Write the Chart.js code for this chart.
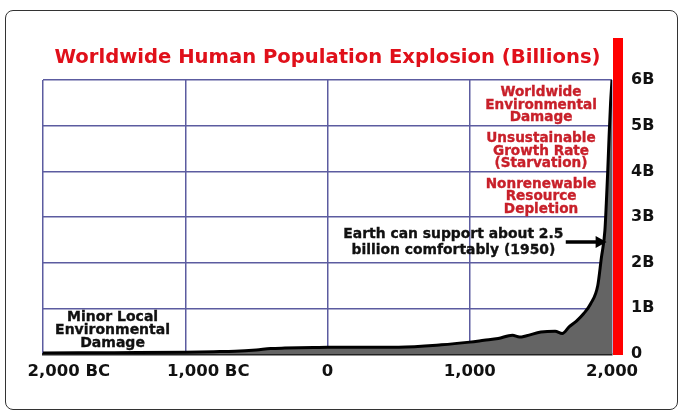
<!DOCTYPE html>
<html>
<head>
<meta charset="utf-8">
<script src="https://cdn.jsdelivr.net/npm/chart.js@4/dist/chart.umd.min.js"></script>
<style>
  html, body { margin: 0; padding: 0; background: #fff; }
  #wrap { position: relative; width: 679px; height: 412px; }
  #frame { position: absolute; left: 5px; top: 10px; width: 671px; height: 398px;
           border: 1.5px solid #333; border-radius: 8px; pointer-events: none; }
  canvas { position: absolute; left: 0; top: 0; }
</style>
</head>
<body>
<div id="wrap">
  <canvas id="c" width="679" height="412"></canvas>
  <div id="frame"></div>
</div>
<script>
// ---- data ----
const years = [-2000, -1500, -1000, -800, -650, -500, -400, -300, -100, 0, 200, 500, 800, 1000, 1100, 1200, 1300, 1350, 1400, 1500, 1600, 1650, 1700, 1750, 1800, 1850, 1900, 1925, 1950, 1960, 1970, 1980, 1990, 2000];
const populationBillions = [0.02, 0.03, 0.04, 0.05, 0.06, 0.09, 0.12, 0.13, 0.14, 0.15, 0.15, 0.15, 0.2, 0.26, 0.3, 0.34, 0.41, 0.37, 0.4, 0.48, 0.5, 0.45, 0.6, 0.72, 0.88, 1.1, 1.5, 2.1, 2.7, 3.3, 4.0, 4.8, 5.5, 6.0];
const xTickValues = [-2000, -1000, 0, 1000, 2000];
const xTickLabels = ['2,000 BC', '1,000 BC', '0', '1,000', '2,000'];
const yTickValues = [0, 1, 2, 3, 4, 5, 6];
const yTickLabels = ['0', '1B', '2B', '3B', '4B', '5B', '6B'];
const titleText = 'Worldwide Human Population Explosion (Billions)';

const FONT = "'DejaVu Sans', sans-serif";

const notes = [
  { x: 1501, y: 5.45, lines: ['Worldwide', 'Environmental', 'Damage'], color: '#c8202a', size: 13.6, lh: 12.4 },
  { x: 1501, y: 4.44, lines: ['Unsustainable', 'Growth Rate', '(Starvation)'], color: '#c8202a', size: 13.6, lh: 12.4 },
  { x: 1501, y: 3.44, lines: ['Nonrenewable', 'Resource', 'Depletion'], color: '#c8202a', size: 13.6, lh: 12.4 },
  { x: 885, y: 2.45, lines: ['Earth can support about 2.5', 'billion comfortably (1950)'], color: '#111', size: 13.9, lh: 15.7 },
  { x: -1511, y: 0.52, lines: ['Minor Local', 'Environmental', 'Damage'], color: '#111', size: 14, lh: 13 }
];
const arrowNote = { from: 1675, to: 1962, y: 2.45 };

const decorPlugin = {
  id: 'decor',
  afterDatasetsDraw(chart) {
    const ctx = chart.ctx, xs = chart.scales.x, ys = chart.scales.y, ca = chart.chartArea;
    ctx.save();
    // red bar
    ctx.fillStyle = '#ff0000';
    ctx.fillRect(ca.right + 1, 38, 10, ca.bottom + 1 - 38);
    // notes
    ctx.textAlign = 'center';
    ctx.textBaseline = 'middle';
    notes.forEach(n => {
      ctx.font = 'bold ' + n.size + 'px ' + FONT;
      ctx.fillStyle = n.color;
      ctx.strokeStyle = n.color;
      ctx.lineWidth = 0.35;
      const cx = xs.getPixelForValue(n.x);
      const cy = ys.getPixelForValue(n.y);
      const start = cy - (n.lines.length - 1) * n.lh / 2;
      n.lines.forEach((l, i) => {
        ctx.fillText(l, cx, start + i * n.lh);
        ctx.strokeText(l, cx, start + i * n.lh);
      });
    });
    // arrow
    const ax0 = xs.getPixelForValue(arrowNote.from);
    const ax1 = xs.getPixelForValue(arrowNote.to);
    const ay = ys.getPixelForValue(arrowNote.y);
    ctx.strokeStyle = '#000';
    ctx.lineWidth = 3.5;
    ctx.beginPath();
    ctx.moveTo(ax0, ay);
    ctx.lineTo(ax1 - 8, ay);
    ctx.stroke();
    ctx.fillStyle = '#000';
    ctx.beginPath();
    ctx.moveTo(ax1, ay);
    ctx.lineTo(ax1 - 11, ay - 6);
    ctx.lineTo(ax1 - 11, ay + 6);
    ctx.closePath();
    ctx.fill();
    ctx.restore();
  }
};

new Chart(document.getElementById('c'), {
  type: 'line',
  data: {
    datasets: [{
      data: years.map((yr, i) => ({ x: yr, y: populationBillions[i] })),
      borderColor: '#000',
      borderWidth: 3,
      backgroundColor: '#646464',
      fill: 'origin',
      pointRadius: 0,
      cubicInterpolationMode: 'monotone'
    }]
  },
  options: {
    responsive: false,
    animation: false,
    layout: { padding: { top: 30, left: 43, right: 0, bottom: 0 } },
    plugins: {
      legend: { display: false },
      tooltip: { enabled: false },
      title: {
        display: true,
        text: titleText,
        fullSize: false,
        color: '#e0101a',
        font: { family: FONT, size: 19.6, weight: 'bold', lineHeight: 1.2 },
        padding: { top: 16, bottom: 10.5 }
      }
    },
    scales: {
      x: {
        type: 'linear',
        min: -2000, max: 2000,
        afterBuildTicks(scale) { scale.ticks = xTickValues.map(v => ({ value: v })); },
        afterFit(scale) { scale.height = 58; scale.paddingLeft = 0; scale.paddingRight = 0; },
        ticks: {
          padding: 8,
          maxRotation: 0,
          autoSkip: false,
          color: '#111',
          font: { family: FONT, size: 16.5, weight: 'bold' },
          callback(v) {
            const i = xTickValues.indexOf(v);
            const lbl = i >= 0 ? xTickLabels[i] : '';
            if (v === -2000) return ' '.repeat(9) + lbl;
            if (v === -1000) return ' '.repeat(8) + lbl;
            return lbl;
          }
        },
        grid: { drawTicks: false, color: '#5c5ca0', lineWidth: 1.5 },
        border: { display: true, color: '#222', width: 2.5 }
      },
      y: {
        position: 'right',
        min: 0, max: 6,
        afterBuildTicks(scale) { scale.ticks = yTickValues.map(v => ({ value: v })); },
        afterFit(scale) { scale.width = 67; scale.paddingTop = 0; scale.paddingBottom = 0; },
        ticks: {
          padding: 19,
          color: '#111',
          font: { family: FONT, size: 16, weight: 'bold' },
          callback(v) {
            const i = yTickValues.indexOf(v);
            return i >= 0 ? yTickLabels[i] : '';
          }
        },
        grid: {
          drawTicks: false,
          color: ctx => ctx.tick && ctx.tick.value === 0 ? 'rgba(0,0,0,0)' : '#5c5ca0',
          lineWidth: 1.5
        },
        border: { display: false }
      }
    }
  },
  plugins: [decorPlugin]
});
</script>
</body>
</html>
